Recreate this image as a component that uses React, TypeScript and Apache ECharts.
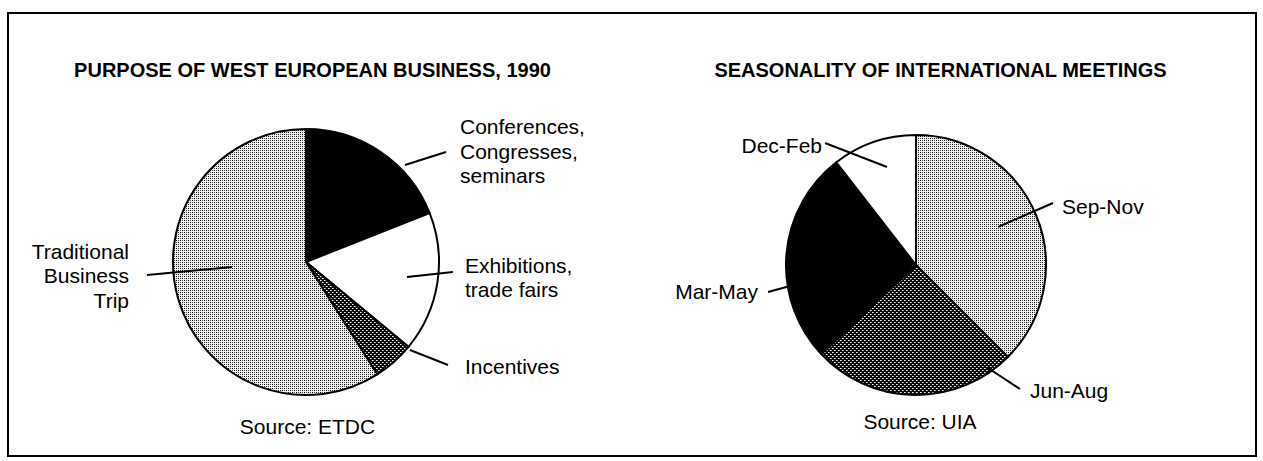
import React, { useEffect, useRef } from 'react';
import * as echarts from 'echarts';

// ---- data ----
const leftTitle = 'PURPOSE OF WEST EUROPEAN BUSINESS, 1990';
const rightTitle = 'SEASONALITY OF INTERNATIONAL MEETINGS';
const leftSource = 'Source: ETDC';
const rightSource = 'Source: UIA';

const leftCategories = [
  'Conferences,\nCongresses,\nseminars',
  'Exhibitions,\ntrade fairs',
  'Incentives',
  'Traditional\nBusiness\nTrip',
];
const leftValues = [19, 17, 5, 59];

const rightCategories = ['Sep-Nov', 'Jun-Aug', 'Mar-May', 'Dec-Feb'];
const rightValues = [37.5, 25.5, 26.5, 10.5];

// ---- layout (positions of labels and leader lines) ----
const leftLabelPos = [
  { x: 460, y: 151, align: 'left' },
  { x: 465, y: 277.5, align: 'left' },
  { x: 465, y: 366, align: 'left' },
  { x: 129, y: 275.5, align: 'right' },
];
const leftLeaders = [
  [[405, 165], [446, 152]],
  [[407, 277], [453, 272]],
  [[410, 350], [448, 365]],
  [[232, 267], [147, 275]],
];
const rightLabelPos = [
  { x: 1062, y: 206, align: 'left' },
  { x: 1030, y: 390, align: 'left' },
  { x: 758, y: 291, align: 'right' },
  { x: 822, y: 145, align: 'right' },
];
const rightLeaders = [
  [[998, 227], [1053, 203]],
  [[988, 368], [1020, 389]],
  [[790, 286], [768, 292]],
  [[887, 167], [825, 143]],
];

const FONT = '"Liberation Sans", Arial, Helvetica, sans-serif';

function makePattern(bg: string, pixels: [number, number, string][]) {
  const c = document.createElement('canvas');
  c.width = 4;
  c.height = 4;
  const ctx = c.getContext('2d')!;
  ctx.fillStyle = bg;
  ctx.fillRect(0, 0, 4, 4);
  pixels.forEach(([x, y, col]) => {
    ctx.fillStyle = col;
    ctx.fillRect(x, y, 1, 1);
  });
  return { image: c, repeat: 'repeat', imageWidth: 4, imageHeight: 4 } as any;
}

export default function App() {
  const ref = useRef<HTMLDivElement>(null);

  useEffect(() => {
    if (!ref.current) return;
    const chart = echarts.init(ref.current, undefined, { renderer: 'svg' });

    const light = makePattern('#f2f2f2', [
      [0, 0, '#000000'],
      [2, 2, '#000000'],
      [2, 0, '#444444'],
      [0, 2, '#444444'],
    ]);
    const dark = makePattern('#0a0a0a', [
      [0, 0, '#ffffff'],
      [2, 2, '#ffffff'],
      [1, 0, '#999999'],
      [3, 2, '#999999'],
    ]);

    const leftFills = ['#000000', '#ffffff', dark, light];
    const rightFills = [light, dark, '#000000', '#ffffff'];

    const labelBase = {
      show: true,
      position: 'outside',
      formatter: '{b}',
      fontFamily: FONT,
      fontSize: 21,
      color: '#000',
      lineHeight: 24.5,
    };

    const makeLayout = (pos: any[]) => (p: any) => {
      const i = p.dataIndex;
      return { x: pos[i].x, y: pos[i].y, align: pos[i].align, verticalAlign: 'middle' };
    };

    const text = (t: string, x: number, y: number, bold: boolean) => ({
      type: 'text',
      x,
      y,
      silent: true,
      style: {
        text: t,
        fill: '#000',
        fontFamily: FONT,
        fontSize: bold ? 20 : 21,
        fontWeight: bold ? 'bold' : 'normal',
        textAlign: 'center',
        textVerticalAlign: 'middle',
      },
    });

    const leader = (pts: number[][]) => ({
      type: 'line',
      silent: true,
      z: 10,
      shape: { x1: pts[0][0], y1: pts[0][1], x2: pts[1][0], y2: pts[1][1] },
      style: { stroke: '#000', lineWidth: 2 },
    });

    chart.setOption({
      animation: false,
      backgroundColor: '#ffffff',
      graphic: [
        {
          type: 'rect',
          shape: { x: 8, y: 13, width: 1248, height: 443 },
          style: { fill: 'none', stroke: '#000', lineWidth: 2 },
          silent: true,
        },
        text(leftTitle, 312.5, 69.5, true),
        text(rightTitle, 940.5, 69.5, true),
        text(leftSource, 307.5, 426, false),
        text(rightSource, 920, 421, false),
        ...leftLeaders.map(leader),
        ...rightLeaders.map(leader),
      ],
      series: [
        {
          type: 'pie',
          center: [306, 262],
          radius: 133,
          startAngle: 90,
          clockwise: true,
          avoidLabelOverlap: false,
          silent: true,
          itemStyle: { borderColor: '#000', borderWidth: 2 },
          label: labelBase,
          labelLine: { show: false },
          labelLayout: makeLayout(leftLabelPos),
          emphasis: { disabled: true },
          data: leftCategories.map((name, i) => ({
            name,
            value: leftValues[i],
            itemStyle: { color: leftFills[i] },
          })),
        },
        {
          type: 'pie',
          center: [916, 265],
          radius: 130,
          startAngle: 90,
          clockwise: true,
          avoidLabelOverlap: false,
          silent: true,
          itemStyle: { borderColor: '#000', borderWidth: 2 },
          label: labelBase,
          labelLine: { show: false },
          labelLayout: makeLayout(rightLabelPos),
          emphasis: { disabled: true },
          data: rightCategories.map((name, i) => ({
            name,
            value: rightValues[i],
            itemStyle: { color: rightFills[i] },
          })),
        },
      ],
    });

    return () => chart.dispose();
  }, []);

  return (
    <div
      ref={ref}
      style={{ position: 'absolute', left: 0, top: 0, width: 1263, height: 461, background: '#fff' }}
    />
  );
}
